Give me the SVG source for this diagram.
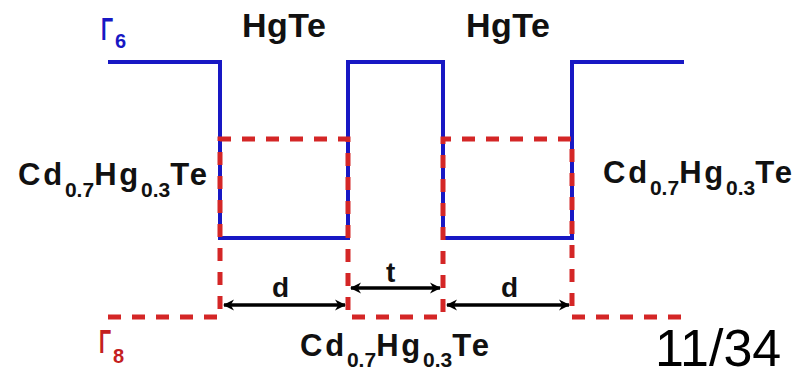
<svg xmlns="http://www.w3.org/2000/svg" width="806" height="368" viewBox="0 0 806 368">
<style>
.lbl{font-family:"Liberation Sans",Arial,sans-serif;font-weight:bold;fill:#111}
.main{font-size:31px;letter-spacing:2.8px}
.sub{font-size:21px;letter-spacing:0}
.blue{fill:none;stroke:#1818c4;stroke-width:4}
.red{fill:none;stroke:#d42626;stroke-width:5;stroke-dasharray:13 11}
.arr{stroke:#000;stroke-width:3.5;fill:none;marker-start:url(#ah);marker-end:url(#ah)}
</style>
<defs>
<marker id="ah" viewBox="0 0 10 10" refX="9" refY="5" markerWidth="3.2" markerHeight="3.2" orient="auto-start-reverse">
<path d="M0,0 L10,5 L0,10 L3,5 Z" fill="#000"/>
</marker>
</defs>
<rect width="806" height="368" fill="#fff"/>
<g id="bands">
<path id="gamma6-band" class="blue" d="M108 62 H220 V238 H348 V62 H443 V238 H572 V62 H684"/>
<path id="gamma8-band" class="red" d="M108 317 H220 V139 H348 V317 H443 V139 H572 V317 H684"/>
</g>
<g id="connectors">
<line class="arr" x1="224" y1="305" x2="345" y2="305"/>
<line class="arr" x1="351" y1="288" x2="440" y2="288"/>
<line class="arr" x1="447" y1="305" x2="569" y2="305"/>
</g>
<g id="gamma6">
<text x="101" y="40" class="lbl" style="font-size:32px;fill:#1818c4" textLength="12" lengthAdjust="spacingAndGlyphs">Γ</text>
<text x="115" y="48" class="lbl" style="font-size:20px;fill:#1818c4">6</text>
</g>
<g id="gamma8">
<text x="99" y="353" class="lbl" style="font-size:34px;fill:#c42020" textLength="12" lengthAdjust="spacingAndGlyphs">Γ</text>
<text x="113" y="363" class="lbl" style="font-size:20px;fill:#c42020">8</text>
</g>
<g id="hgte1"><text x="242" y="37" class="lbl" style="font-size:34px;letter-spacing:0.5px">HgTe</text></g>
<g id="hgte2"><text x="466" y="37" class="lbl" style="font-size:34px;letter-spacing:0.5px">HgTe</text></g>
<g id="cdhgte-left"><text x="18" y="185" class="lbl main">Cd<tspan class="sub" dy="12">0.7</tspan><tspan dy="-12">Hg</tspan><tspan class="sub" dy="12">0.3</tspan><tspan dy="-12">Te</tspan></text></g>
<g id="cdhgte-right"><text x="603" y="183" class="lbl main">Cd<tspan class="sub" dy="12">0.7</tspan><tspan dy="-12">Hg</tspan><tspan class="sub" dy="12">0.3</tspan><tspan dy="-12">Te</tspan></text></g>
<g id="cdhgte-bottom"><text x="300" y="356" class="lbl main">Cd<tspan class="sub" dy="11">0.7</tspan><tspan dy="-11">Hg</tspan><tspan class="sub" dy="11">0.3</tspan><tspan dy="-11">Te</tspan></text></g>
<g id="label-d1"><text x="272" y="297" class="lbl" style="font-size:28px">d</text></g>
<g id="label-t"><text x="386" y="282" class="lbl" style="font-size:28px">t</text></g>
<g id="label-d2"><text x="501" y="297" class="lbl" style="font-size:28px">d</text></g>
<g id="page"><text x="655" y="366" style="font-family:'Liberation Sans',Arial,sans-serif;font-size:52px;fill:#000">11/34</text></g>
</svg>
